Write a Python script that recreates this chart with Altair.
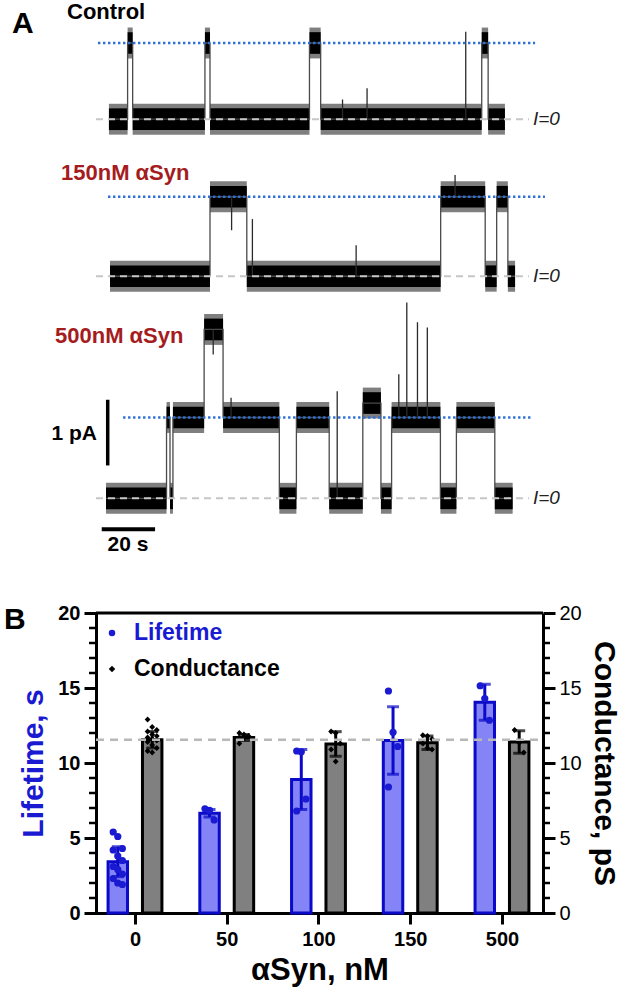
import json
import altair as alt
import pandas as pd

FONT = "Liberation Sans"
BLUE = "#1a1ad2"
RED = "#a51c1e"

# ---------------- Panel A: single-channel current records ----------------
trace_names = ["Control", "150nM αSyn", "500nM αSyn"]

# dwell boundaries (s) and the current level of every dwell (pA)
control_edges = [1.1, 8.1, 10.0, 37.1, 39.0, 76.3, 80.5, 140.9, 143.3, 149.6]
control_levels = [0.0, 1.16, 0.0, 1.16, 0.0, 1.16, 0.0, 1.16, 0.0]
control_spike_t = [88.7, 97.9, 134.9]
control_spike_peak = [0.30, 0.47, 1.33]

syn150_edges = [1.5, 39.0, 52.8, 125.5, 142.2, 146.5, 150.7, 153.4]
syn150_levels = [0.0, 1.21, 0.0, 1.21, 0.0, 1.21, 0.0]
syn150_spike_t = [47.1, 54.9, 93.8, 130.9]
syn150_spike_peak = [0.70, 0.87, 0.47, 1.54]

syn500_edges = [0.0, 22.7, 24.0, 25.1, 36.8, 43.9, 65.0, 71.4, 83.7, 96.3,
                103.1, 107.1, 125.4, 131.4, 145.8, 152.5]
syn500_levels = [0.0, 1.23, 0.0, 1.23, 2.57, 1.23, 0.0, 1.23, 0.0, 1.45,
                 0.0, 1.23, 0.0, 1.23, 0.0]
syn500_spike_t = [40.2, 46.9, 86.7, 109.8, 112.8, 116.8, 120.5]
syn500_spike_peak = [2.19, 1.53, 1.63, 1.89, 2.98, 2.68, 2.60]

# unitary open-channel current of each record (pA)
open_level = [1.16, 1.21, 1.23]

scale_bar_current = 1.0   # pA
scale_bar_time = 20.0     # s

# ---------------- Panel B: lifetime and conductance ----------------
conc_labels = ["0", "50", "100", "150", "500"]

lifetime_mean = [3.42, 6.65, 8.9, 11.5, 14.05]
lifetime_sd = [1.0, 0.25, 2.0, 2.25, 1.2]
lifetime_points = [
    [5.4, 5.1, 4.3, 4.2, 3.8, 3.5, 3.1, 2.9, 2.6, 2.3, 2.0, 1.9],
    [6.95, 6.85, 6.2],
    [10.8, 10.75, 7.6, 6.8],
    [14.8, 12.05, 11.1, 8.4],
    [15.15, 14.3, 12.85],
]

conductance_mean = [11.55, 11.7, 11.27, 11.35, 11.4]
conductance_sd = [0.55, 0.2, 0.82, 0.45, 0.75]
conductance_points = [
    [12.9, 12.4, 12.2, 12.1, 11.9, 11.8, 11.7, 11.6, 11.5, 11.4, 11.2, 11.0, 10.8, 10.7],
    [12.0, 11.9, 11.8, 11.3],
    [12.1, 12.0, 11.3, 10.9, 10.1],
    [11.85, 11.8, 11.6, 11.3, 11.0, 10.9],
    [12.2, 11.35, 10.7],
]

legend_labels = ["Lifetime", "Conductance"]

# ---------------- layout constants ----------------
NOISE = 0.165                     # half height of the dense noise core (pA)
FRINGE = 0.235                    # half height of the sparse noise fringe (pA)
stack_offset = [5.77, 3.38, 0.0]  # vertical stacking of the three records (pA)
open_span = [(-3.0, 160.9), (0.75, 164.6), (6.4, 159.7)]
zero_span = (-3.75, 158.6)
zero_label_t = 160.1

x_a = alt.Scale(domain=[0, 150], range=[106, 506])
y_a = alt.Scale(domain=[0, 7], range=[498.3, 38.4])

BAR_SHIFT = 0.1875
BAR_HALF = 0.106
X_LO, X_HI = -0.425, 4.447
PLOT_LEFT, PLOT_RIGHT = 96, 543
PX_PER_UNIT = (PLOT_RIGHT - PLOT_LEFT) / (X_HI - X_LO)
MINOR_PX = 7
MINOR_LEN = MINOR_PX / PX_PER_UNIT
# the x scale reaches a tick length beyond the frame so the outer minor ticks fit in it
x_b = alt.Scale(domain=[X_LO - MINOR_LEN, X_HI + MINOR_LEN],
                range=[PLOT_LEFT - MINOR_PX, PLOT_RIGHT + MINOR_PX])
y_b = alt.Scale(domain=[0, 20], range=[913, 613])

# ---------------- tables for panel A ----------------
records = [
    (control_edges, control_levels, control_spike_t, control_spike_peak),
    (syn150_edges, syn150_levels, syn150_spike_t, syn150_spike_peak),
    (syn500_edges, syn500_levels, syn500_spike_t, syn500_spike_peak),
]
seg_rows, step_rows, spike_rows, ref_rows = [], [], [], []
for name, off, lev_open, span, (edges, levels, s_t, s_p) in zip(
        trace_names, stack_offset, open_level, open_span, records):
    for k, lev in enumerate(levels):
        seg_rows.append(dict(trace=name, t0=edges[k], t1=edges[k + 1],
                             lo=lev + off - NOISE, hi=lev + off + NOISE,
                             flo=lev + off - FRINGE, fhi=lev + off + FRINGE))
        step_rows.append(dict(trace=name, seq=k, t=edges[k], y=lev + off))
    step_rows.append(dict(trace=name, seq=len(levels), t=edges[-1], y=levels[-1] + off))
    for t, peak in zip(s_t, s_p):
        k = max(i for i in range(len(levels)) if edges[i] <= t)
        spike_rows.append(dict(trace=name, t=t, base=levels[k] + off, peak=peak + off))
    ref_rows.append(dict(trace=name, o0=span[0], o1=span[1], yo=lev_open + off,
                         z0=zero_span[0], z1=zero_span[1], yz=off,
                         lt=zero_label_t, label="I=0"))

seg_df = pd.DataFrame(seg_rows)
step_df = pd.DataFrame(step_rows)
spike_df = pd.DataFrame(spike_rows)
ref_df = pd.DataFrame(ref_rows)

XA = dict(scale=x_a, axis=None)
YA = dict(scale=y_a, axis=None)

fringe = alt.Chart(seg_df).mark_rect(color="black", opacity=0.5).encode(
    x=alt.X("t0:Q", **XA), x2="t1:Q",
    y=alt.Y("flo:Q", **YA), y2="fhi:Q")

bands = alt.Chart(seg_df).mark_rect(color="black").encode(
    x=alt.X("t0:Q", **XA), x2="t1:Q",
    y=alt.Y("lo:Q", **YA), y2="hi:Q")

steps = alt.Chart(step_df).mark_line(
    interpolate="step-after", color="#4a4a4a", strokeWidth=1.3).encode(
    x=alt.X("t:Q", **XA), y=alt.Y("y:Q", **YA),
    detail="trace:N", order="seq:Q")

spikes = alt.Chart(spike_df).mark_rule(color="#2a2a2a", strokeWidth=1.3).encode(
    x=alt.X("t:Q", **XA), y=alt.Y("base:Q", **YA), y2="peak:Q")

open_lines = alt.Chart(ref_df).mark_rule(
    color="#2f6fd8", strokeWidth=2.6, strokeDash=[2.4, 2.6]).encode(
    x=alt.X("o0:Q", **XA), x2="o1:Q", y=alt.Y("yo:Q", **YA))

zero_lines = alt.Chart(ref_df).mark_rule(
    color="#c6c6c6", strokeWidth=2, strokeDash=[7, 5]).encode(
    x=alt.X("z0:Q", **XA), x2="z1:Q", y=alt.Y("yz:Q", **YA))

zero_labels = alt.Chart(ref_df).mark_text(
    font=FONT, fontSize=19, fontStyle="italic", color="#222222",
    align="left", baseline="middle").encode(
    x=alt.X("lt:Q", **XA), y=alt.Y("yz:Q", **YA), text="label:N")

bar_df = pd.DataFrame([
    dict(kind="v", t0=0.64, t1=0.64, y0=0.5, y1=0.5 + scale_bar_current),
    dict(kind="h", t0=-1.6, t1=-1.6 + scale_bar_time, y0=-0.472, y1=-0.472),
])
scale_v = alt.Chart(bar_df).transform_filter("datum.kind == 'v'").mark_rule(
    color="black", strokeWidth=3.5).encode(
    x=alt.X("t0:Q", **XA), y=alt.Y("y0:Q", **YA), y2="y1:Q")
scale_h = alt.Chart(bar_df).transform_filter("datum.kind == 'h'").mark_rule(
    color="black", strokeWidth=4).encode(
    x=alt.X("t0:Q", **XA), x2="t1:Q", y=alt.Y("y0:Q", **YA))

panel_a = alt.layer(fringe, bands, steps, spikes, zero_lines, open_lines,
                    zero_labels, scale_v, scale_h)

# ---------------- tables for panel B ----------------
def bar_table(means, sds, side):
    rows = []
    for i, (m, s) in enumerate(zip(means, sds)):
        xc = i + side * BAR_SHIFT
        rows.append(dict(conc=conc_labels[i], xc=xc, xl=xc - BAR_HALF, xr=xc + BAR_HALF,
                         mean=m, lo=m - s, hi=m + s, zero=0.0))
    return pd.DataFrame(rows)


def point_table(groups, side):
    rows = []
    for i, vals in enumerate(groups):
        for j, v in enumerate(vals):
            rows.append(dict(conc=conc_labels[i],
                             xp=i + side * BAR_SHIFT + ((j % 3) - 1) * 0.05, v=v))
    return pd.DataFrame(rows)


def cap_table(bars):
    lo = bars[["xc", "lo"]].rename(columns={"lo": "cap"})
    hi = bars[["xc", "hi"]].rename(columns={"hi": "cap"})
    return pd.concat([lo, hi], ignore_index=True)


life_bars = bar_table(lifetime_mean, lifetime_sd, -1)
cond_bars = bar_table(conductance_mean, conductance_sd, 1)
life_pts = point_table(lifetime_points, -1)
cond_pts = point_table(conductance_points, 1)

label_expr = "%s[datum.value]" % json.dumps(conc_labels)

x_axis = alt.Axis(
    orient="bottom", offset=-85, values=list(range(len(conc_labels))), labelExpr=label_expr,
    grid=False, domainColor="black", domainWidth=3, tickColor="black", tickWidth=3, tickSize=11,
    labelFont=FONT, labelFontSize=20, labelFontWeight="bold", labelColor="black",
    labelPadding=5, labelFlush=False, labelOverlap=False,
    title="αSyn, nM", titleFont=FONT, titleFontSize=31, titleFontWeight="bold",
    titleColor="black", titlePadding=6)

Y_OFFSET = {"left": -PLOT_LEFT, "right": PLOT_RIGHT - 624}


def y_axis(side, title, title_color, weight, size, pad):
    return alt.Axis(
        orient=side, offset=Y_OFFSET[side], values=[0, 5, 10, 15, 20],
        tickSize=12, tickWidth=3, tickColor="black", grid=False,
        domainColor="black", domainWidth=3,
        labelFont=FONT, labelFontSize=20, labelFontWeight=weight, labelColor="black",
        labelPadding=4, labelOverlap=False, labelFlush=False,
        title=title, titleFont=FONT, titleFontSize=size, titleFontWeight="bold",
        titleColor=title_color, titlePadding=pad)


left_axis = y_axis("left", "Lifetime, s", BLUE, "bold", 30, 9)
right_axis = y_axis("right", "Conductance, pS", "black", "normal", 30, 7)

XB = dict(scale=x_b, axis=x_axis)


def group(bars, pts, fill, stroke, point_color, shape, size, axis):
    YB = dict(scale=y_b, axis=axis)
    rect = alt.Chart(bars).mark_rect(fill=fill, stroke=stroke, strokeWidth=3).encode(
        x=alt.X("xl:Q", **XB), x2="xr:Q", y=alt.Y("mean:Q", **YB), y2="zero:Q")
    err = alt.Chart(bars).mark_rule(color=stroke, strokeWidth=3).encode(
        x=alt.X("xc:Q", **XB), y=alt.Y("lo:Q", **YB), y2="hi:Q")
    caps = alt.Chart(cap_table(bars)).mark_tick(
        orient="horizontal", color=stroke, size=12, thickness=3).encode(
        x=alt.X("xc:Q", **XB), y=alt.Y("cap:Q", **YB))
    dots = alt.Chart(pts).mark_point(
        shape=shape, filled=True, size=size, color=point_color, opacity=1).encode(
        x=alt.X("xp:Q", **XB), y=alt.Y("v:Q", **YB))
    return alt.layer(rect, err, caps, dots)


life_group = group(life_bars, life_pts, "#8484f6", "#0a0ac8", BLUE, "circle", 52, left_axis)
cond_group = group(cond_bars, cond_pts, "#808080", "black", "black", "diamond", 34, right_axis)

# top frame line
border_df = pd.DataFrame({"x0": [X_LO], "x1": [X_HI], "y": [20.0]})
top_border = alt.Chart(border_df).mark_rule(color="black", strokeWidth=3).encode(
    x=alt.X("x0:Q", **XB), x2="x1:Q",
    y=alt.Y("y:Q", scale=y_b, axis=None))

# control conductance level
ctrl_df = pd.DataFrame({"x0": [X_LO], "x1": [X_HI], "y": [conductance_mean[0]]})
control_line = alt.Chart(ctrl_df).mark_rule(
    color="#b8b8b8", strokeWidth=2.5, strokeDash=[8, 6]).encode(
    x=alt.X("x0:Q", **XB), x2="x1:Q",
    y=alt.Y("y:Q", scale=y_b, axis=None))

# minor ticks of both value axes, one per unit
minor_rows = []
for v in range(0, 21):
    if v % 5:
        minor_rows.append(dict(y=float(v), x0=X_LO - MINOR_LEN, x1=X_LO))
        minor_rows.append(dict(y=float(v), x0=X_HI, x1=X_HI + MINOR_LEN))
minor_df = pd.DataFrame(minor_rows)
minor_ticks = alt.Chart(minor_df).mark_rule(color="black", strokeWidth=2.5).encode(
    x=alt.X("x0:Q", **XB), x2="x1:Q",
    y=alt.Y("y:Q", scale=y_b, axis=None))

legend_df = pd.DataFrame({"label": legend_labels})
legend_y = alt.Y("label:N", scale=alt.Scale(domain=legend_labels, range=[633, 669], padding=0),
                 axis=None)
legend_color = alt.Color("label:N", scale=alt.Scale(domain=legend_labels, range=[BLUE, "black"]),
                         legend=None)
legend_dots = alt.Chart(legend_df).mark_point(filled=True, opacity=1, size=42).encode(
    x=alt.value(112), y=legend_y, color=legend_color,
    shape=alt.Shape("label:N", scale=alt.Scale(domain=legend_labels, range=["circle", "diamond"]),
                    legend=None))
legend_text = alt.Chart(legend_df).mark_text(
    font=FONT, fontSize=23, fontWeight="bold", align="left", baseline="middle").encode(
    x=alt.value(134), y=legend_y, color=legend_color, text="label:N")

panel_b = alt.layer(life_group, cond_group, top_border, control_line, minor_ticks,
                    legend_dots, legend_text).resolve_scale(y="independent")

# ---------------- free-standing annotations ----------------
one = pd.DataFrame({"k": [0]})


def note(text, x, y, size, color="black", align="left", weight="bold"):
    return alt.Chart(one).mark_text(
        text=text, font=FONT, fontSize=size, fontWeight=weight, color=color,
        align=align, baseline="middle").encode(x=alt.value(x), y=alt.value(y))


notes = [
    note("A", 12, 24, 30),
    note("B", 4, 620, 30),
    note(trace_names[0], 67, 12, 22),
    note(trace_names[1], 61, 173, 22, RED),
    note(trace_names[2], 55, 336, 22, RED),
    note("1 pA", 97, 434, 21, align="right"),
    note("20 s", 128, 545, 21, align="center"),
]

chart = alt.layer(panel_a, panel_b, *notes).resolve_scale(
    x="independent", y="independent"
).properties(
    width=624, height=998, padding=0,
    autosize=alt.AutoSizeParams(type="none"),
).configure_view(stroke=None)

chart.save("out.html", embed_options={"renderer": "svg", "actions": False})
